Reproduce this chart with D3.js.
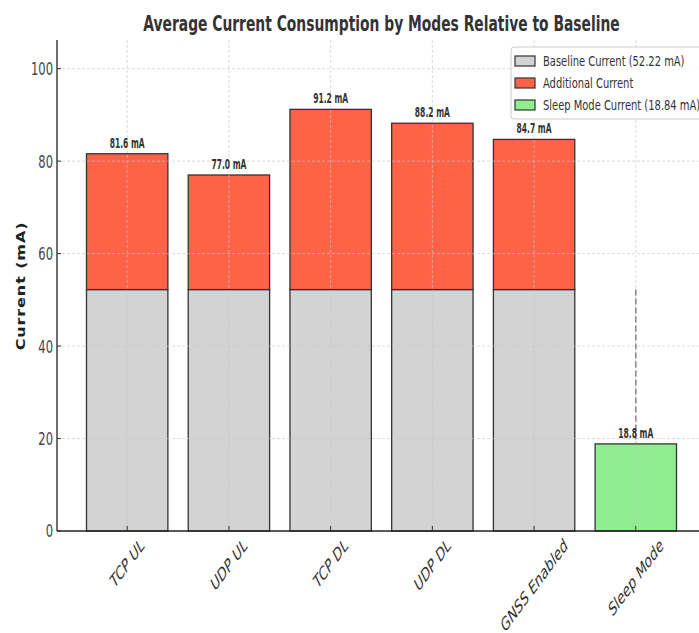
<!DOCTYPE html>
<html>
<head>
<meta charset="utf-8">
<script src="https://cdn.jsdelivr.net/npm/d3@7"></script>
<style>
  body { margin: 0; background: #fff; }
  svg { display: block; }
  text { font-family: "DejaVu Sans", sans-serif; }
</style>
</head>
<body>
<svg width="699" height="633"></svg>
<script>
const BASELINE = 52.22;
const SLEEP = 18.84;

const modes = ["TCP UL", "UDP UL", "TCP DL", "UDP DL", "GNSS Enabled", "Sleep Mode"];
const totals = [81.6, 77.0, 91.2, 88.2, 84.7, SLEEP];
const yTicks = [0, 20, 40, 60, 80, 100];
const legendLabels = ["Baseline Current (52.22 mA)", "Additional Current", "Sleep Mode Current (18.84 mA)"];
const colors = ["#d3d3d3", "#ff6347", "#90ee90"];

const svg = d3.select("svg");
const plotLeft = 57, plotRight = 706, plotTop = 40, plotBottom = 531;
// the reference picture is squeezed sideways, so text gets narrowed too
const SQ = 0.64;

const x = d3.scaleLinear().domain([-0.69, modes.length - 1 + 0.69]).range([plotLeft, plotRight]);
const y = d3.scaleLinear().domain([0, 106.2]).range([plotBottom, plotTop]);
const barW = x(0.8) - x(0);

/**
 * Adds a text narrowed by factor s at (px, py)
 */
function squeezed(parent, px, py, s, str) {
  return parent.append("text")
    .attr("transform", "translate(" + px + "," + py + ")scale(" + s + ",1)")
    .text(str);
}

// Title
squeezed(svg, (plotLeft + plotRight) / 2, 31, 0.63, "Average Current Consumption by Modes Relative to Baseline")
  .attr("text-anchor", "middle")
  .style("font-size", "22px")
  .style("font-weight", "bold")
  .attr("fill", "#333");

const g = svg.append("g");

// Bars
modes.forEach(function (m, i) {
  const cx = x(i);
  if (i < modes.length - 1) {
    g.append("rect")
      .attr("x", cx - barW / 2).attr("width", barW)
      .attr("y", y(BASELINE)).attr("height", y(0) - y(BASELINE))
      .attr("fill", colors[0]).attr("stroke", "#333").attr("stroke-width", 1.3);
    g.append("rect")
      .attr("x", cx - barW / 2).attr("width", barW)
      .attr("y", y(totals[i])).attr("height", y(BASELINE) - y(totals[i]))
      .attr("fill", colors[1]).attr("stroke", "#333").attr("stroke-width", 1.3);
  } else {
    g.append("rect")
      .attr("x", cx - barW / 2).attr("width", barW)
      .attr("y", y(totals[i])).attr("height", y(0) - y(totals[i]))
      .attr("fill", colors[2]).attr("stroke", "#333").attr("stroke-width", 1.3);
  }
});

// Grid on top of bars
const grid = svg.append("g").attr("stroke", "#c8c8c8").attr("stroke-width", 0.8)
  .attr("stroke-dasharray", "3,2").attr("opacity", 0.8);
yTicks.slice(1).forEach(function (t) {
  grid.append("line").attr("x1", plotLeft).attr("x2", 699).attr("y1", y(t)).attr("y2", y(t));
});
modes.forEach(function (m, i) {
  grid.append("line").attr("x1", x(i)).attr("x2", x(i)).attr("y1", plotTop).attr("y2", plotBottom);
});

// Dashed drop line from baseline to sleep mode
const si = modes.length - 1;
svg.append("line")
  .attr("x1", x(si)).attr("x2", x(si))
  .attr("y1", y(BASELINE)).attr("y2", y(SLEEP))
  .attr("stroke", "#777").attr("stroke-width", 1.3).attr("stroke-dasharray", "6,3");

// Value labels
modes.forEach(function (m, i) {
  squeezed(svg, x(i), y(totals[i]) - 6, 0.56, totals[i].toFixed(1) + " mA")
    .attr("text-anchor", "middle")
    .style("font-size", "13.5px")
    .style("font-weight", "bold")
    .attr("fill", "#333");
});

// Spines
svg.append("line").attr("x1", plotLeft).attr("x2", plotLeft).attr("y1", plotTop).attr("y2", plotBottom)
  .attr("stroke", "#222").attr("stroke-width", 1.3);
svg.append("line").attr("x1", plotLeft).attr("x2", 699).attr("y1", plotBottom).attr("y2", plotBottom)
  .attr("stroke", "#222").attr("stroke-width", 1.3);

// Y ticks
yTicks.forEach(function (t) {
  svg.append("line").attr("x1", plotLeft).attr("x2", plotLeft + 4).attr("y1", y(t)).attr("y2", y(t))
    .attr("stroke", "#333").attr("stroke-width", 1);
  squeezed(svg, plotLeft - 4, y(t), SQ, t)
    .attr("dy", "0.36em")
    .attr("text-anchor", "end")
    .style("font-size", "18px")
    .attr("fill", "#444");
});

// X ticks: rotated 45, box centred under the tick, faux italic
modes.forEach(function (m, i) {
  svg.append("line").attr("x1", x(i)).attr("x2", x(i)).attr("y1", plotBottom).attr("y2", plotBottom - 5)
    .attr("stroke", "#333").attr("stroke-width", 1);
  const t = svg.append("text")
    .attr("text-anchor", "middle")
    .attr("dy", "0.35em")
    .style("font-size", "17px")
    .attr("fill", "#333")
    .text(m);
  const len = t.node().getComputedTextLength();
  const half = (len + 12) * Math.SQRT1_2 / 2;
  t.attr("transform", "translate(" + x(i) + "," + (plotBottom + 7 + half) + ")scale(0.74,1)rotate(-45)skewX(-12)");
});

// Y label
svg.append("text")
  .attr("transform", "translate(21," + 286 + ")scale(0.8,1)rotate(-90)")
  .attr("text-anchor", "middle")
  .attr("dy", "0.35em")
  .style("font-size", "16px")
  .style("font-weight", "bold")
  .style("letter-spacing", "0.9px")
  .attr("fill", "#222")
  .text("Current (mA)");

// Legend
const lg = svg.append("g").attr("transform", "translate(511,47)");
lg.append("rect").attr("width", 220).attr("height", 72).attr("rx", 3)
  .attr("fill", "#fff").attr("fill-opacity", 0.85).attr("stroke", "#ccc");
legendLabels.forEach(function (lab, i) {
  lg.append("rect").attr("x", 4).attr("y", 9 + i * 22).attr("width", 20).attr("height", 10)
    .attr("fill", colors[i]).attr("stroke", "#333").attr("stroke-width", 1.2);
  squeezed(lg, 32, 14 + i * 22, 0.71, lab)
    .attr("dy", "0.36em")
    .style("font-size", "14px")
    .attr("fill", "#333");
});
</script>
</body>
</html>
